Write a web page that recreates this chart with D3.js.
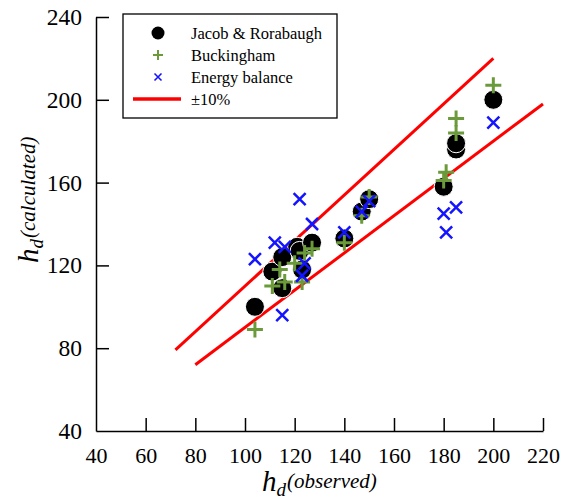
<!DOCTYPE html>
<html>
<head>
<meta charset="utf-8">
<script src="https://cdn.jsdelivr.net/npm/d3@7"></script>
<style>
  body { margin: 0; background: #fff; }
  svg text { font-family: "Liberation Serif", "Times New Roman", serif; }
</style>
</head>
<body>
<div id="chart"></div>
<script>
// observed vs calculated h_d
const jacob = [[104,100],[111,117],[115,109],[115,124],[121,129],[122,127],[123,118],[127,131],
               [140,133],[147,146],[150,152],[180,158],[185,176],[185,179],[200,200]];
const buckingham = [[104,89],[111,110],[114,118],[116,112],[120,121],[123,112],[124,126],[127,128],
                    [140,131],[147,144],[150,153],[180,161],[181,165],[185,184],[185,191],[200,207]];
const energy = [[104,123],[112,131],[115,96],[116,129],[122,152],[123,115],[124,121],[127,140],
                [140,136],[147,146],[150,151],[180,145],[181,136],[185,148],[200,189]];
const upperBand = [[72, 1.1], [200, 1.1]];
const lowerBand = [[80, 0.9], [220, 0.9]];
const xTicks = [40,60,80,100,120,140,160,180,200,220];
const yTicks = [40,80,120,160,200,240];
const legendLabels = ["Jacob & Rorabaugh", "Buckingham", "Energy balance", "\u00b110%"];

const w = 561, h = 501;
const green = "#6b9a3a", blue = "#1414ff";

const x = d3.scaleLinear().domain([40, 220]).range([96, 543]);
const y = d3.scaleLinear().domain([40, 240]).range([431, 17]);

const svg = d3.select("#chart").append("svg")
    .attr("width", w)
    .attr("height", h);

// axes, ticks pointing inward
const xAxis = d3.axisBottom(x).tickValues(xTicks).tickSizeInner(-13).tickSizeOuter(0).tickPadding(16);
const yAxis = d3.axisLeft(y).tickValues(yTicks).tickSizeInner(-13).tickSizeOuter(0).tickPadding(14);

const gx = svg.append("g").attr("transform", "translate(0," + y(40) + ")").call(xAxis);
const gy = svg.append("g").attr("transform", "translate(" + x(40) + ",0)").call(yAxis);
[gx, gy].forEach(g => {
    g.attr("font-family", null);
    g.selectAll("path, line").attr("stroke", "#000").attr("stroke-width", 1.5);
    g.selectAll("text").attr("fill", "#000");
});
gx.selectAll("text").attr("font-size", 22);
gy.selectAll("text").attr("font-size", 23.5);
gx.selectAll(".tick").filter(d => d === 40).select("line").remove();
gy.selectAll(".tick").filter(d => d === 40).select("line").remove();

// +-10% lines
const line = d3.line().x(d => x(d[0])).y(d => y(d[0] * d[1]));
[upperBand, lowerBand].forEach(b => {
    svg.append("path")
        .attr("d", line(b))
        .attr("fill", "none")
        .attr("stroke", "#ff0000")
        .attr("stroke-width", 3);
});

// markers
function plus(g, cx, cy, s, sw) {
    g.append("path")
        .attr("d", `M${cx - s},${cy}H${cx + s}M${cx},${cy - s}V${cy + s}`)
        .attr("stroke", green).attr("stroke-width", sw).attr("fill", "none");
}
function cross(g, cx, cy, s, sw) {
    g.append("path")
        .attr("d", `M${cx - s},${cy - s}L${cx + s},${cy + s}M${cx - s},${cy + s}L${cx + s},${cy - s}`)
        .attr("stroke", blue).attr("stroke-width", sw).attr("fill", "none");
}

svg.append("g").selectAll("circle")
    .data(jacob)
    .enter()
    .append("circle")
    .attr("cx", d => x(d[0]))
    .attr("cy", d => y(d[1]))
    .attr("r", 9.5)
    .attr("fill", "#000")
    .attr("stroke", "#fff")
    .attr("stroke-width", 1);

const gb = svg.append("g");
buckingham.forEach(d => plus(gb, x(d[0]), y(d[1]), 8, 3));
const ge = svg.append("g");
energy.forEach(d => cross(ge, x(d[0]), y(d[1]), 6, 2.5));

// legend
const lg = svg.append("g");
lg.append("rect")
    .attr("x", 123).attr("y", 14).attr("width", 214).attr("height", 104)
    .attr("fill", "#fff").attr("stroke", "#000").attr("stroke-width", 1.3);
const rowY = [33, 55, 77, 99];
lg.append("circle").attr("cx", 158).attr("cy", rowY[0]).attr("r", 6.5).attr("fill", "#000");
plus(lg, 158, rowY[1], 5, 2);
cross(lg, 158, rowY[2], 3.5, 1.6);
lg.append("line").attr("x1", 133).attr("x2", 181).attr("y1", rowY[3]).attr("y2", rowY[3])
    .attr("stroke", "#ff0000").attr("stroke-width", 3.5);
lg.selectAll("text.lab")
    .data(legendLabels)
    .enter()
    .append("text")
    .attr("class", "lab")
    .attr("x", 191)
    .attr("y", (d, i) => rowY[i])
    .attr("dy", "0.35em")
    .attr("font-size", 16.5)
    .text(d => d);

// axis titles
const xt = svg.append("text")
    .attr("x", 262).attr("y", 491)
    .attr("font-style", "italic");
xt.append("tspan").attr("font-size", 29).text("h");
xt.append("tspan").attr("font-size", 19).attr("dy", 5).text("d");
xt.append("tspan").attr("font-size", 21).attr("dx", 1).attr("dy", -8).text("(observed)");

const yt = svg.append("text")
    .attr("transform", "translate(38,263) rotate(-90)")
    .attr("font-style", "italic");
yt.append("tspan").attr("font-size", 29).text("h");
yt.append("tspan").attr("font-size", 19).attr("dy", 5).text("d");
yt.append("tspan").attr("font-size", 21).attr("dx", 1).attr("dy", -8).text("(calculated)");
</script>
</body>
</html>
